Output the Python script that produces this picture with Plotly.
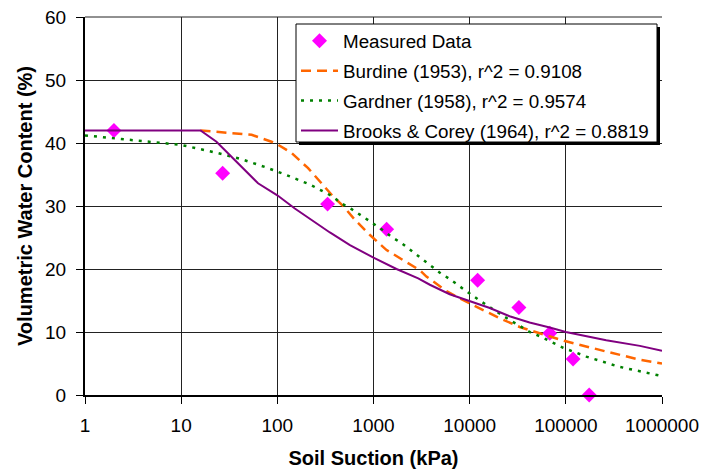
import plotly.graph_objects as go

# Measured data
meas_x = [2, 27, 333, 1370, 12100, 32500, 68000, 119000, 175000]
meas_y = [42.0, 35.2, 30.3, 26.3, 18.2, 13.9, 9.8, 5.7, 0.0]

# Burdine (1953) fitted curve
burd_x = [15.9, 31, 54, 87, 100, 141, 209, 300, 381, 484, 641, 919, 1368, 2037,
          3035, 3550, 4365, 5750, 7940, 12600, 20400, 33100, 53700, 95500,
          263000, 589000, 1000000]
burd_y = [42.0, 41.6, 41.3, 40.2, 39.8, 38.4, 36.0, 33.3, 31.5, 30.0, 27.8, 25.4, 23.0, 21.4,
          19.8, 18.8, 17.8, 16.5, 15.3, 13.8, 12.2, 10.8, 9.8, 8.6,
          6.9, 5.6, 5.0]

# Gardner (1958) fitted curve
gard_x = [1, 3.16, 10, 14, 24, 43, 74, 125, 219, 367, 466, 592, 752, 955, 1213, 1542,
          1959, 2490, 3162, 3855, 4900, 6200, 7900, 10000, 12700, 16200, 20500,
          26000, 33000, 42000, 56000, 74000, 94000, 163000, 355000, 1000000]
gard_y = [41.2, 40.5, 39.7, 39.2, 38.4, 37.4, 36.2, 34.9, 33.4, 31.6, 30.4, 29.5, 28.5, 27.4, 26.3, 25.1,
          24.1, 22.9, 21.7, 20.6, 19.4, 18.4, 17.3, 16.1, 15.0, 13.9, 12.9,
          11.9, 11.0, 10.0, 9.2, 8.3, 7.5, 6.1, 4.5, 3.0]

# Brooks & Corey (1964) fitted curve
bc_x = [1, 15.9, 23.3, 39.3, 63, 100, 152, 352, 569, 1000, 1734, 2917, 3855, 6200,
        10000, 16200, 26000, 42000, 68000, 100000, 263000, 589000, 1000000]
bc_y = [42.0, 42.0, 40.2, 36.8, 33.6, 31.7, 29.6, 25.8, 23.8, 21.8, 20.0, 18.5, 17.5, 16.0,
        14.9, 13.8, 12.5, 11.5, 10.7, 10.0, 8.7, 7.8, 7.0]

names = ["Measured Data",
         "Burdine (1953), r^2 = 0.9108",
         "Gardner (1958), r^2 = 0.9574",
         "Brooks & Corey (1964), r^2 = 0.8819"]

x_tickvals = [1, 10, 100, 1000, 10000, 100000, 1000000]
x_ticktext = ["1", "10", "100", "1000", "10000", "100000", "1000000"]
y_tickvals = [0, 10, 20, 30, 40, 50, 60]

FONT = "Liberation Sans, Arial, sans-serif"

fig = go.Figure()
fig.add_trace(go.Scatter(x=meas_x, y=meas_y, mode="markers", name=names[0], legendgroup="m",
                         marker=dict(symbol="diamond", size=11.5, color="#FF00FF"),
                         cliponaxis=False))
fig.add_trace(go.Scatter(x=burd_x, y=burd_y, mode="lines", name=names[1], legendgroup="b",
                         line=dict(color="#FF6600", width=2.5, dash="10px,6px")))
fig.add_trace(go.Scatter(x=gard_x, y=gard_y, mode="lines", name=names[2], legendgroup="g",
                         line=dict(color="#008000", width=2.5, dash="3px,6px")))
fig.add_trace(go.Scatter(x=bc_x, y=bc_y, mode="lines", name=names[3], legendgroup="c",
                         line=dict(color="#800080", width=2)))

# page offset of 8px (body margin) is compensated through the margins
PL, PT, PW, PH = 85, 17, 577, 378   # plot area in reference pixels


def px_x(v):
    return (v - PL) / PW


def px_y(v):
    return (PT + PH - v) / PH


# top border line of the plot area (plotly drops the grid line at the range edge)
fig.add_shape(type="line", xref="paper", yref="paper", x0=0, x1=1, y0=1, y1=1,
              line=dict(color="#222222", width=1), layer="below")

# legend shadow and box
fig.add_shape(type="rect", xref="paper", yref="paper",
              x0=px_x(299), x1=px_x(660), y0=px_y(145), y1=px_y(27),
              fillcolor="black", line=dict(width=0), layer="above")
fig.add_shape(type="rect", xref="paper", yref="paper",
              x0=px_x(296), x1=px_x(657), y0=px_y(142), y1=px_y(24),
              fillcolor="white", line=dict(color="black", width=1), layer="above")

fig.update_layout(
    width=721, height=471,
    margin=dict(l=77, r=67, t=9, b=84, autoexpand=False),
    paper_bgcolor="white", plot_bgcolor="white",
    font=dict(family=FONT, size=19, color="black"),
    showlegend=True,
    legend=dict(x=px_x(296), y=px_y(22), xanchor="left", yanchor="top",
                bgcolor="rgba(0,0,0,0)", borderwidth=0,
                font=dict(family=FONT, size=18.8, color="black"),
                itemwidth=37, tracegroupgap=2.5),
    xaxis=dict(type="log", range=[0, 6], tickvals=x_tickvals, ticktext=x_ticktext,
               automargin=False, ticklabeloverflow="allow",
               showgrid=True, gridcolor="#222222", gridwidth=1,
               showline=True, linecolor="black", linewidth=2,
               ticks="outside", ticklen=7, tickcolor="black", tickwidth=1,
               ticklabelstandoff=5,
               mirror=False, zeroline=False,
               title=dict(text="<b>Soil Suction (kPa)</b>", font=dict(size=20), standoff=16)),
    yaxis=dict(range=[0, 60], tickvals=y_tickvals,
               automargin=False, ticklabeloverflow="allow",
               showgrid=True, gridcolor="#222222", gridwidth=1,
               showline=True, linecolor="black", linewidth=2,
               ticks="outside", ticklen=7, tickcolor="black", tickwidth=1,
               ticklabelstandoff=6,
               zeroline=False,
               title=dict(text="<b>Volumetric Water Content (%)</b>", font=dict(size=20), standoff=7)),
)

fig.write_html("out.html")
